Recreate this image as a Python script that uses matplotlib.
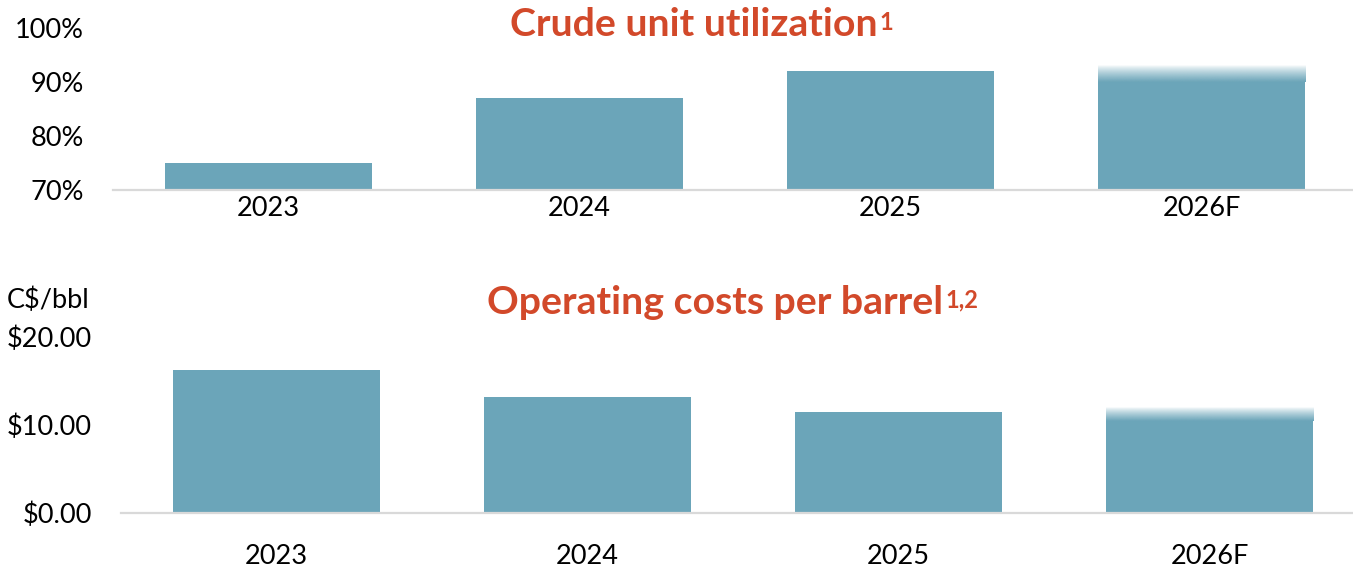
import numpy as np
import matplotlib
matplotlib.use('Agg')
import matplotlib.pyplot as plt
from matplotlib.colors import to_rgb

plt.rcParams['font.family'] = ['Lato', 'DejaVu Sans']

# data
years = ['2023', '2024', '2025', '2026F']
util = [75, 87, 92]          # crude unit utilization, %
util_fcst = [90, 93]         # 2026F guidance range, %
opex = [16.25, 13.2, 11.5]   # operating cost, C$/bbl
opex_fcst = [10.5, 12.0]     # 2026F guidance range, C$/bbl

bar_col = '#6BA5B9'
title_col = '#D2492A'
W, H = 1353, 568

fig = plt.figure(figsize=(W / 100, H / 100), dpi=100)


def px_axes(x0, y_top, x1, y_bot):
    # axes placed in pixel coords of the reference image
    return fig.add_axes([x0 / W, 1 - y_bot / H, (x1 - x0) / W, (y_bot - y_top) / H])


def draw(ax, vals, fcst, base, top, ticks, fmt, xpad):
    x = np.arange(len(years))
    bw = 0.668
    ax.bar(x[:len(vals)], np.array(vals) - base, bottom=base, width=bw, color=bar_col)
    # forecast: solid up to low end, fade up to high end
    ax.bar(x[-1], fcst[0] - base, bottom=base, width=bw, color=bar_col)
    grad = np.zeros((64, 1, 4))
    grad[..., :3] = to_rgb(bar_col)
    grad[..., 3] = np.linspace(1, 0, 64)[:, None] ** 0.8
    ax.imshow(grad, extent=[x[-1] - bw / 2, x[-1] + bw / 2, fcst[0], fcst[1]],
              origin='lower', aspect='auto', interpolation='bilinear')
    ax.set_xlim(-0.5, 3.5)
    ax.set_ylim(base, top)
    ax.set_xticks(x)
    ax.set_xticklabels(years)
    ax.set_yticks(ticks)
    ax.set_yticklabels([fmt(t) for t in ticks])
    for s in ['top', 'right', 'left']:
        ax.spines[s].set_visible(False)
    ax.spines['bottom'].set_color('#D9D9D9')
    ax.spines['bottom'].set_linewidth(1.6)
    ax.tick_params(axis='both', length=0, labelsize=19.5, colors='black')
    ax.tick_params(axis='y', pad=21)
    ax.tick_params(axis='x', pad=xpad)
    ax.patch.set_alpha(0)


ax1 = px_axes(113, 28, 1357, 190)
draw(ax1, util, util_fcst, 70, 100, [70, 80, 90, 100], lambda v: f'{v:.0f}%', 4)

ax2 = px_axes(121, 337, 1365, 513)
draw(ax2, opex, opex_fcst, 0, 20, [0, 10, 20], lambda v: f'${v:.2f}', 22)

fig.text(7 / W, 1 - 300 / H, 'C$/bbl', fontsize=19.5, ha='left', va='center')


def title(x0, yc, main, sup):
    t = fig.text(x0 / W, 1 - yc / H, main, ha='left', va='center', fontsize=28.3,
                 fontweight='bold', color=title_col)
    fig.canvas.draw()
    bb = t.get_window_extent()
    fig.text((bb.x1 + 2) / W, (bb.y1 - 3) / H, sup, ha='left', va='top', fontsize=17,
             fontweight='bold', color=title_col)


title(510, 25, 'Crude unit utilization', '1')
title(487, 303, 'Operating costs per barrel', '1,2')

fig.savefig('out.png', dpi=100)
